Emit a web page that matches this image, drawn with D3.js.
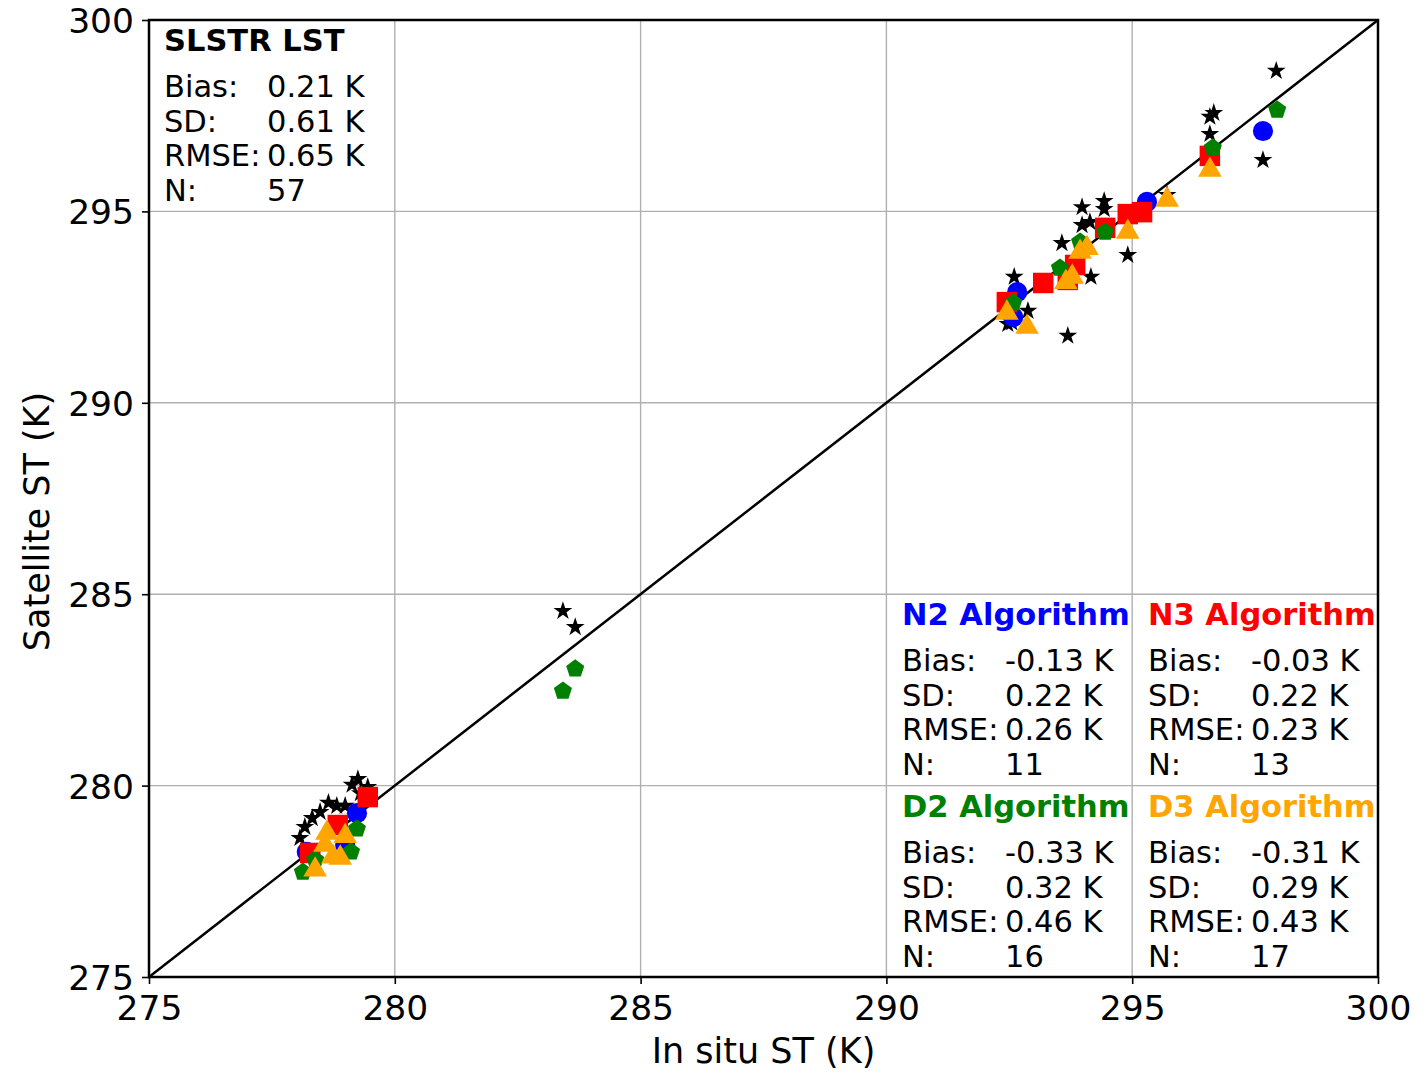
<!DOCTYPE html>
<html>
<head>
<meta charset="utf-8">
<script src="https://cdn.jsdelivr.net/npm/d3@7"></script>
<style>
  body { margin: 0; background: #fff; }
  text { font-family: "DejaVu Sans", sans-serif; }
</style>
</head>
<body>
<svg width="1426" height="1072"></svg>
<script>
// in situ (x) / satellite (y) surface temperatures, K
const starX = [278.07, 278.17, 278.32, 278.48, 278.65, 278.82, 278.99, 279.25, 279.45, 279.13, 279.30,
               283.42, 283.67,
               293.98, 294.43, 294.43, 293.98, 294.14, 293.57, 292.60, 294.16, 294.91, 293.69, 292.88, 292.47, 292.55,
               297.93, 296.58, 296.66, 296.58, 297.66, 295.71];
const starY = [278.63, 278.92, 279.15, 279.31, 279.55, 279.47, 279.47, 280.17, 279.96, 280.02, 279.80,
               284.56, 284.14,
               295.11, 295.27, 295.06, 294.64, 294.72, 294.17, 293.29, 293.29, 293.86, 291.75, 292.40, 292.06, 292.10,
               298.67, 297.47, 297.57, 297.02, 296.34, 295.43];

const n2X = [278.21, 279.23, 278.99, 297.66, 295.30, 292.66, 292.58];
const n2Y = [278.27, 279.28, 278.45, 297.10, 295.25, 292.89, 292.24];

const n3X = [279.45, 278.84, 278.28, 292.45, 293.19, 293.69, 293.84, 294.45, 294.91, 295.20, 296.58];
const n3Y = [279.70, 278.97, 278.24, 292.63, 293.13, 293.21, 293.60, 294.57, 294.93, 294.98, 296.45];

const d2X = [279.23, 279.11, 278.13, 278.38, 283.67, 283.42, 292.58, 293.53, 293.94, 294.45, 296.64, 297.95];
const d2Y = [278.87, 278.27, 277.74, 278.06, 283.05, 282.47, 292.61, 293.52, 294.20, 294.46, 296.66, 297.65];

const d3X = [278.38, 278.74, 278.99, 278.62, 278.89, 278.58, 292.45, 292.86, 293.78, 293.65, 294.08, 293.94, 294.91, 295.71, 296.58];
const d3Y = [277.80, 278.14, 278.68, 278.76, 278.11, 278.45, 292.35, 291.98, 293.29, 293.15, 294.04, 293.94, 294.46, 295.30, 296.08];

const ticks = [275, 280, 285, 290, 295, 300];
const statLabels = ["Bias:", "SD:", "RMSE:", "N:"];
const slstrStats = ["0.21 K", "0.61 K", "0.65 K", "57"];
const n2Stats = ["-0.13 K", "0.22 K", "0.26 K", "11"];
const n3Stats = ["-0.03 K", "0.22 K", "0.23 K", "13"];
const d2Stats = ["-0.33 K", "0.32 K", "0.46 K", "16"];
const d3Stats = ["-0.31 K", "0.29 K", "0.43 K", "17"];

const svg = d3.select("svg");
const mLeft = 149, mTop = 20, w = 1229, h = 957;

const x = d3.scaleLinear().domain([275, 300]).range([mLeft, mLeft + w]);
const y = d3.scaleLinear().domain([275, 300]).range([mTop + h, mTop]);

// grid
const grid = svg.append("g").attr("stroke", "#b0b0b0").attr("stroke-width", 1.4);
grid.selectAll("line.gx").data(ticks).enter().append("line")
  .attr("x1", d => x(d)).attr("x2", d => x(d)).attr("y1", mTop).attr("y2", mTop + h);
grid.selectAll("line.gy").data(ticks).enter().append("line")
  .attr("y1", d => y(d)).attr("y2", d => y(d)).attr("x1", mLeft).attr("x2", mLeft + w);

// 1:1 line
svg.append("line")
  .attr("x1", x(275)).attr("y1", y(275)).attr("x2", x(300)).attr("y2", y(300))
  .attr("stroke", "#000").attr("stroke-width", 2.5);

function pentagon(r) {
  const pts = d3.range(5).map(i => {
    const a = -Math.PI / 2 + i * 2 * Math.PI / 5;
    return [r * Math.cos(a), r * Math.sin(a)];
  });
  return "M" + pts.map(p => p.join(",")).join("L") + "Z";
}

function drawSeries(xs, ys, pathStr, color) {
  svg.append("g").selectAll("path").data(xs).enter().append("path")
    .attr("d", pathStr)
    .attr("transform", (d, i) => `translate(${x(d)},${y(ys[i])})`)
    .attr("fill", color);
}

drawSeries(starX, starY, d3.symbol(d3.symbolStar, 110)(), "#000");
drawSeries(n2X, n2Y, d3.symbol(d3.symbolCircle, 320)(), "#0000ff");
drawSeries(n3X, n3Y, d3.symbol(d3.symbolSquare, 420)(), "#ff0000");
drawSeries(d2X, d2Y, pentagon(9.5), "#008000");
drawSeries(d3X, d3Y, d3.symbol(d3.symbolTriangle, 240)(), "#ffa500");

// axes
const xAxis = svg.append("g").attr("transform", `translate(0,${mTop + h})`)
  .call(d3.axisBottom(x).tickValues(ticks).tickSize(7).tickPadding(10).tickFormat(d3.format("d")));
const yAxis = svg.append("g").attr("transform", `translate(${mLeft},0)`)
  .call(d3.axisLeft(y).tickValues(ticks).tickSize(7).tickPadding(8).tickFormat(d3.format("d")));
[xAxis, yAxis].forEach(a => {
  a.select(".domain").remove();
  a.selectAll("line").attr("stroke", "#000").attr("stroke-width", 1.6);
  a.selectAll("text").attr("font-size", 34.5).attr("fill", "#000")
    .attr("font-family", "DejaVu Sans, sans-serif");
});
xAxis.selectAll("text").attr("dy", "0.75em");
yAxis.selectAll("text").attr("dy", "0.36em");

svg.append("rect").attr("x", mLeft).attr("y", mTop).attr("width", w).attr("height", h)
  .attr("fill", "none").attr("stroke", "#000").attr("stroke-width", 2.5);

svg.append("text").attr("x", mLeft + w / 2).attr("y", 1063).attr("text-anchor", "middle")
  .attr("font-size", 35).text("In situ ST (K)");
svg.append("text").attr("transform", `translate(49,${mTop + h / 2 + 23}) rotate(-90)`)
  .attr("text-anchor", "middle").attr("font-size", 35).text("Satellite ST (K)");

// stats blocks
function statsBlock(tx, ty, title, color, vals) {
  const g = svg.append("g");
  g.append("text").attr("x", tx).attr("y", ty).attr("font-size", 30.5)
    .attr("font-weight", "bold").attr("fill", color).text(title);
  statLabels.forEach((lab, i) => {
    g.append("text").attr("x", tx).attr("y", ty + 46 + i * 34.7).attr("font-size", 30.5).text(lab);
    g.append("text").attr("x", tx + 103).attr("y", ty + 46 + i * 34.7).attr("font-size", 30.5).text(vals[i]);
  });
}
statsBlock(164, 51, "SLSTR LST", "#000", slstrStats);
statsBlock(902, 625, "N2 Algorithm", "#0000ff", n2Stats);
statsBlock(1148, 625, "N3 Algorithm", "#ff0000", n3Stats);
statsBlock(902, 817, "D2 Algorithm", "#008000", d2Stats);
statsBlock(1148, 817, "D3 Algorithm", "#ffa500", d3Stats);
</script>
</body>
</html>
